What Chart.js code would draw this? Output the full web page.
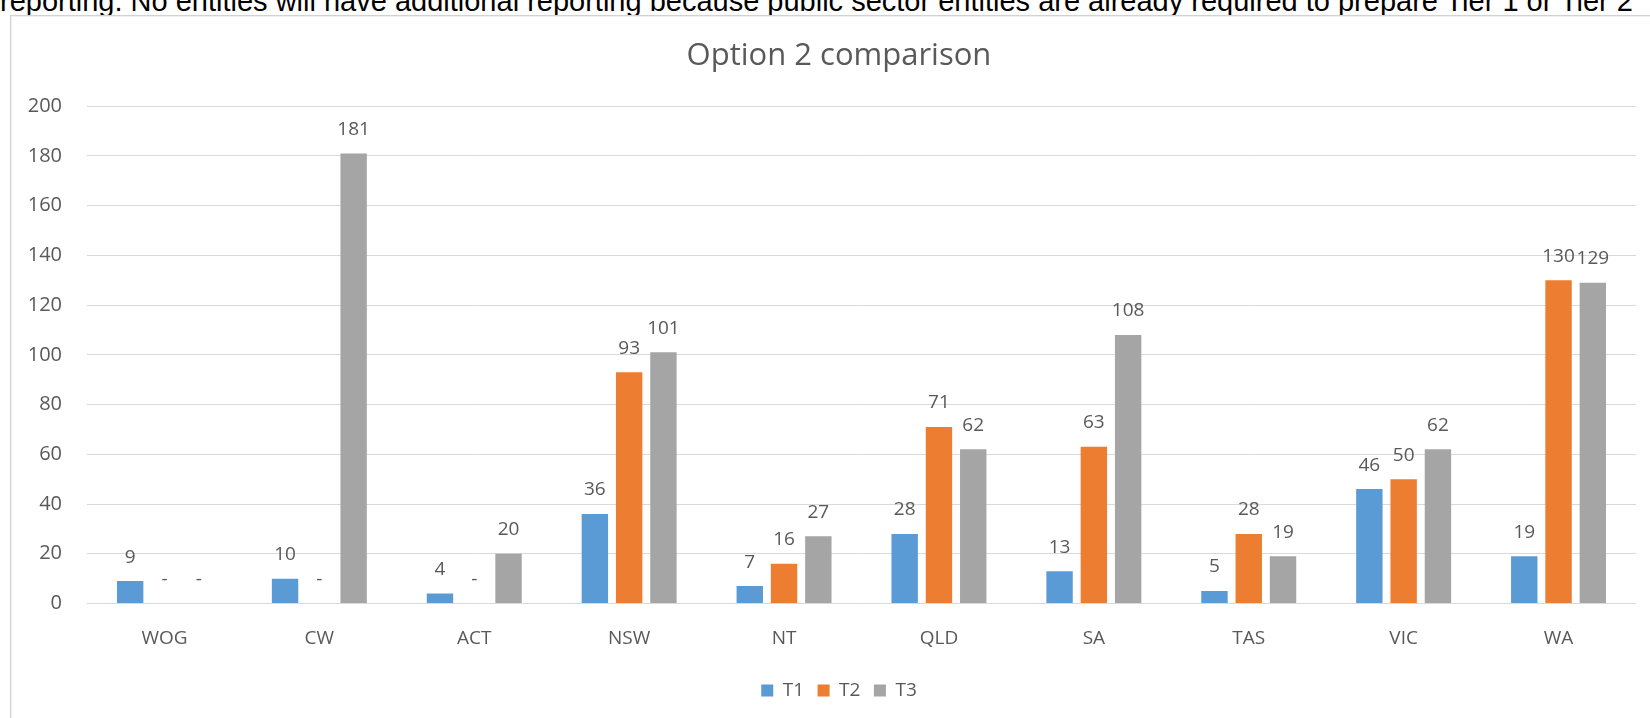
<!DOCTYPE html>
<html>
<head>
<meta charset="utf-8">
<title>Option 2 comparison</title>
<script src="https://cdn.jsdelivr.net/npm/chart.js@4.4.0/dist/chart.umd.min.js"></script>
<style>
  html, body {
    margin: 0;
    padding: 0;
    background: #fff;
    width: 1650px;
    height: 718px;
    overflow: hidden;
  }
  .para {
    position: absolute;
    left: 0;
    top: -13.5px;
    font: 29px/29px "Liberation Sans", Arial, sans-serif;
    color: #000;
    white-space: nowrap;
  }
  .frame {
    position: absolute;
    left: 10px;
    top: 15px;
    width: 1700px;
    height: 800px;
    border-left: 1px solid #d2d2d2;
    border-top: 1px solid #d2d2d2;
    box-shadow: inset 1px 1px 0 #f0f0f0;
  }
  #optionChart {
    position: absolute;
    left: 0;
    top: 0;
  }
</style>
</head>
<body>
<div class="para">reporting. No entities will have additional reporting because public sector entities are already required to prepare Tier 1 or Tier 2</div>
<div class="frame">
  <canvas id="optionChart" width="1639" height="702"></canvas>
</div>
<script>
const regions = ['WOG', 'CW', 'ACT', 'NSW', 'NT', 'QLD', 'SA', 'TAS', 'VIC', 'WA']
const t1Values = [9, 10, 4, 36, 7, 28, 13, 5, 46, 19]
const t2Values = [0, 0, 0, 93, 16, 71, 63, 28, 50, 130]
const t3Values = [0, 181, 20, 101, 27, 62, 108, 19, 62, 129]
const yMin = 0
const yMax = 200
const yStep = 20

const textGrey = '#595959'
const gridGrey = '#d9d9d9'

// numbers above each bar, zero shown as a dash
const valueLabels = {
  id: 'valueLabels',
  afterDatasetsDraw(chart) {
    const ctx = chart.ctx
    ctx.save()
    ctx.font = '19px "Open Sans"'
    ctx.fillStyle = textGrey
    ctx.textAlign = 'center'
    ctx.textBaseline = 'middle'
    chart.data.datasets.forEach((ds, i) => {
      chart.getDatasetMeta(i).data.forEach((bar, j) => {
        const v = ds.data[j]
        ctx.fillText(v === 0 ? '-' : String(v), bar.x, bar.y - 24)
      })
    })
    ctx.restore()
  },
}

const ctx = document.getElementById('optionChart').getContext('2d')

new Chart(ctx, {
  type: 'bar',
  data: {
    labels: regions,
    datasets: [
      { label: 'T1', data: t1Values, backgroundColor: '#5b9bd5' },
      { label: 'T2', data: t2Values, backgroundColor: '#ed7d31' },
      { label: 'T3', data: t3Values, backgroundColor: '#a5a5a5' },
    ],
  },
  options: {
    responsive: false,
    animation: false,
    devicePixelRatio: 1,
    categoryPercentage: 0.664,
    barPercentage: 0.77,
    layout: {
      padding: { left: 17, right: 0, top: 0, bottom: 8 },
    },
    plugins: {
      title: {
        display: true,
        text: 'Option 2 comparison',
        color: textGrey,
        font: { family: 'Open Sans', size: 31, weight: 'normal' },
        padding: { top: 22, bottom: 31 },
      },
      legend: {
        position: 'bottom',
        labels: {
          boxWidth: 12,
          boxHeight: 12,
          padding: 13.5,
          color: textGrey,
          font: { family: 'Open Sans', size: 19 },
        },
      },
      tooltip: { enabled: false },
    },
    scales: {
      x: {
        grid: { display: false },
        border: { display: false },
        ticks: {
          color: textGrey,
          padding: 15.6,
          font: { family: 'Open Sans', size: 19 },
        },
        afterFit(scale) {
          scale.height = 64
        },
      },
      y: {
        min: yMin,
        max: yMax,
        grid: { color: gridGrey, lineWidth: 1, drawTicks: false },
        border: { display: false },
        ticks: {
          stepSize: yStep,
          color: textGrey,
          padding: 25,
          font: { family: 'Open Sans', size: 20 },
        },
        afterFit(scale) {
          scale.width = 59
        },
      },
      // empty strip on the right, keeps the chart area ending inside the frame
      side: {
        position: 'right',
        grid: { display: false },
        border: { display: false },
        ticks: { display: false },
        afterFit(scale) {
          scale.width = 14
        },
      },
    },
  },
  plugins: [valueLabels],
})
</script>
</body>
</html>
